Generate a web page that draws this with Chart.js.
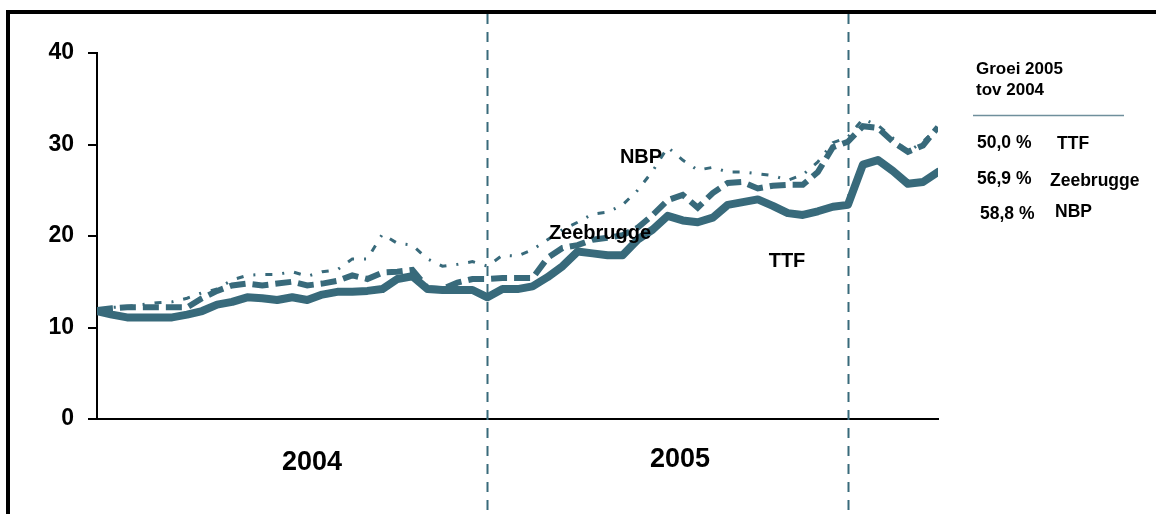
<!DOCTYPE html>
<html>
<head>
<meta charset="utf-8">
<script src="https://cdn.jsdelivr.net/npm/chart.js@4"></script>
<style>
html,body{margin:0;padding:0;background:#fff;}
#wrap{position:relative;width:1156px;height:514px;}
</style>
</head>
<body>
<div id="wrap"><canvas id="c" width="1156" height="514"></canvas></div>
<script>
// week index (2-week steps) from start of 2004
const weeks = [0,2,4,6,8,10,12,14,16,18,20,22,24,26,28,30,32,34,36,38,40,42,44,46,48,50,52,54,56,58,60,62,64,66,68,70,72,74,76,78,80,82,84,86,88,90,92,94,96,98,100,102,104,106,108,110,112];
const ttf = [11.8,11.4,11.1,11.1,11.1,11.1,11.4,11.8,12.5,12.8,13.3,13.2,13.0,13.3,13.0,13.6,13.9,13.9,14.0,14.2,15.3,15.6,14.2,14.1,14.1,14.1,13.3,14.2,14.2,14.5,15.5,16.7,18.3,18.1,17.9,17.9,19.6,20.7,22.2,21.7,21.5,22.0,23.4,23.7,24.0,23.3,22.5,22.3,22.7,23.2,23.4,27.8,28.3,27.1,25.7,25.9,27.0];
const zeebrugge = [11.9,12.1,12.2,12.2,12.2,12.2,12.2,13.2,14.0,14.6,14.8,14.6,14.8,15.0,14.6,14.8,15.1,15.7,15.3,16.0,16.1,16.3,14.3,14.2,14.9,15.3,15.3,15.4,15.4,15.4,17.6,18.7,19.0,19.6,19.8,20.1,20.9,22.3,23.9,24.5,23.1,24.7,25.8,25.9,25.2,25.5,25.6,25.6,27.0,29.7,30.3,32.0,31.8,30.3,29.2,29.9,31.9];
const nbp = [11.9,12.2,12.3,12.5,12.7,12.8,13.2,13.8,14.2,15.2,15.7,15.8,15.8,16.1,15.6,16.1,16.3,17.5,17.5,20.2,19.2,19.0,17.5,16.7,16.9,17.2,16.7,17.9,17.8,18.5,19.6,20.7,21.5,22.4,22.6,23.4,25.0,27.1,29.7,28.3,27.2,27.5,27.0,27.0,26.8,26.6,26.1,26.7,28.1,30.2,30.8,32.8,32.1,30.7,29.2,30.3,31.9];
const yTicks = [0,10,20,30,40];
const yearBoundaries = [52,100];
const yearLabels = ["2004","2005"];
const growthTitle = ["Groei 2005","tov 2004"];
const growthValues = ["50,0 %","56,9 %","58,8 %"];
const growthNames = ["TTF","Zeebrugge","NBP"];

const TEAL = '#386a7b';
const FONT = '"Liberation Sans", Arial, Helvetica, sans-serif';

function pts(arr){ return weeks.map((w,i)=>({x:w,y:arr[i]})); }

const decor = {
  id:'decor',
  beforeDatasetsDraw(chart){
    const ctx = chart.ctx, xs = chart.scales.x;
    ctx.save();
    ctx.strokeStyle = TEAL; ctx.lineWidth = 2; ctx.setLineDash([10,8]);
    yearBoundaries.forEach(b=>{
      const px = Math.round(xs.getPixelForValue(b))+0.5;
      ctx.beginPath(); ctx.moveTo(px,14); ctx.lineTo(px,514); ctx.stroke();
    });
    ctx.restore();
  },
  afterDraw(chart){
    const ctx = chart.ctx;
    ctx.save();
    // frame
    ctx.strokeStyle = '#000'; ctx.lineWidth = 4; ctx.setLineDash([]);
    ctx.beginPath(); ctx.moveTo(8,514); ctx.lineTo(8,12); ctx.lineTo(1156,12); ctx.stroke();
    ctx.fillStyle = '#000';
    // year labels
    ctx.font = 'bold 27px ' + FONT; ctx.textAlign = 'center'; ctx.textBaseline = 'alphabetic';
    ctx.fillText(yearLabels[0], 312, 470);
    ctx.fillText(yearLabels[1], 680, 467);
    // series labels
    ctx.font = 'bold 20px ' + FONT;
    ctx.fillText('NBP', 641, 163);
    ctx.fillText('Zeebrugge', 600, 239);
    ctx.fillText('TTF', 787, 267);
    // growth panel
    ctx.textAlign = 'left';
    ctx.font = 'bold 17px ' + FONT;
    ctx.fillText(growthTitle[0], 976, 74);
    ctx.fillText(growthTitle[1], 976, 95);
    ctx.strokeStyle = '#6f8f9c'; ctx.lineWidth = 1.5;
    ctx.beginPath(); ctx.moveTo(973,115.5); ctx.lineTo(1124,115.5); ctx.stroke();
    ctx.font = 'bold 17.5px ' + FONT;
    const vx = [977,977,980], nx = [1057,1050,1055], ys = [148,184,219], nys=[149,186,217];
    for(let i=0;i<3;i++){
      ctx.fillText(growthValues[i], vx[i], ys[i]);
      ctx.fillText(growthNames[i], nx[i], nys[i]);
    }
    ctx.restore();
  }
};

new Chart(document.getElementById('c'), {
  type:'line',
  data:{
    datasets:[
      {label:'NBP', data:pts(nbp), borderColor:TEAL, borderWidth:3, borderDash:[7,10,2,10], pointRadius:0, tension:0, fill:false, order:3},
      {label:'Zeebrugge', data:pts(zeebrugge), borderColor:TEAL, borderWidth:6, borderDash:[16,7], pointRadius:0, tension:0, fill:false, order:2},
      {label:'TTF', data:pts(ttf), borderColor:TEAL, borderWidth:8, pointRadius:0, tension:0, fill:false, borderJoinStyle:'round', borderCapStyle:'round', order:1}
    ]
  },
  options:{
    responsive:false, animation:false,
    layout:{padding:{top:53,right:218,bottom:95,left:0}},
    plugins:{legend:{display:false}, tooltip:{enabled:false}},
    scales:{
      x:{type:'linear', min:0, max:112, ticks:{display:false}, grid:{display:false},
         border:{display:true,color:'#000',width:2},
         afterFit(s){ s.height = 0; }},
      y:{min:0, max:40, afterBuildTicks(s){ s.ticks = yTicks.map(v=>({value:v})); },
         ticks:{color:'#000', padding:14, font:{family:FONT, size:23, weight:'bold'}},
         grid:{drawOnChartArea:false, drawTicks:true, tickLength:9, color:'#000', lineWidth:2},
         border:{display:true,color:'#000',width:2},
         afterFit(s){ s.width = 97; }}
    }
  },
  plugins:[decor]
});
</script>
</body>
</html>
